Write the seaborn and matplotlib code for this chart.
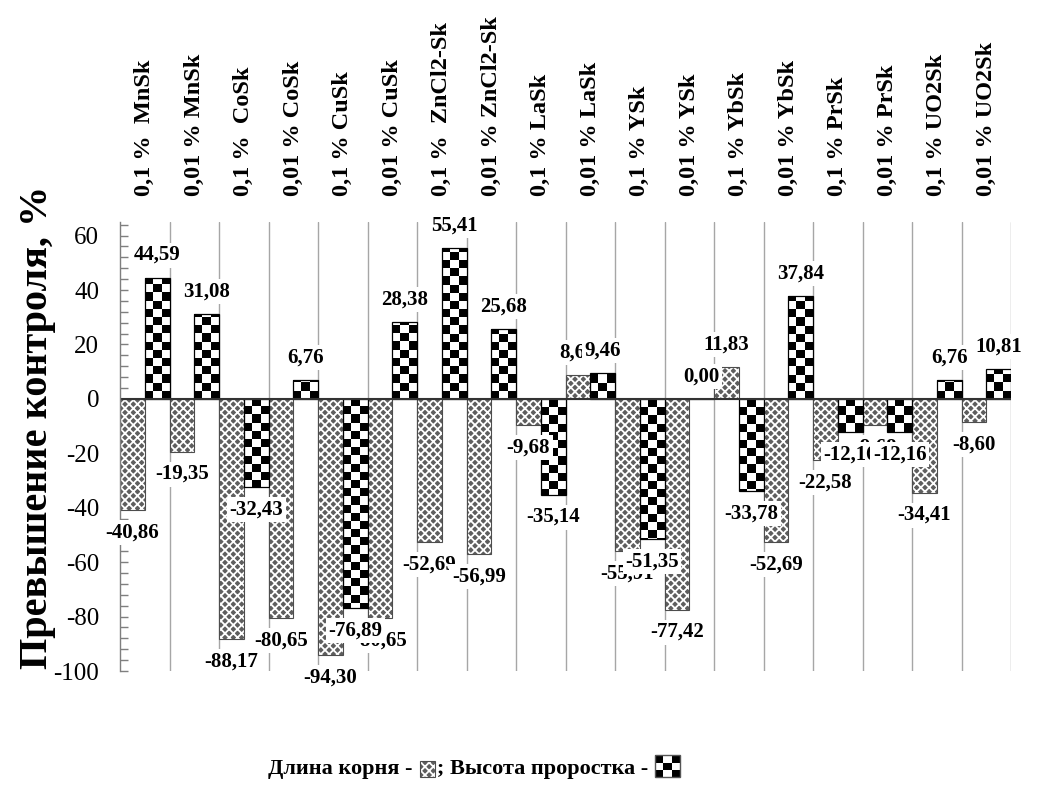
import numpy as np
import pandas as pd
import matplotlib
matplotlib.use("Agg")
import matplotlib.pyplot as plt
from matplotlib.patches import Rectangle, Patch
from matplotlib.colors import ListedColormap
from matplotlib.legend_handler import HandlerBase
from matplotlib.ticker import MultipleLocator, FixedLocator
import seaborn as sns

# ---------------- data ----------------
categories = ["0,1 %  MnSk", "0,01 % MnSk", "0,1 %  CoSk", "0,01 % CoSk",
              "0,1 % CuSk", "0,01 % CuSk", "0,1 %  ZnCl2-Sk", "0,01 % ZnCl2-Sk",
              "0,1 % LaSk", "0,01 % LaSk", "0,1 % YSk", "0,01 % YSk",
              "0,1 % YbSk", "0,01 % YbSk", "0,1 % PrSk", "0,01 % PrSk",
              "0,1 % UO2Sk", "0,01 % UO2Sk"]
root_length = [-40.86, -19.35, -88.17, -80.65, -94.30, -80.65, -52.69, -56.99,
               -9.68, 8.60, -55.91, -77.42, 11.83, -52.69, -22.58, -9.68,
               -34.41, -8.60]
sprout_height = [44.59, 31.08, -32.43, 6.76, -76.89, 28.38, 55.41, 25.68,
                 -35.14, 9.46, -51.35, 0.00, -33.78, 37.84, -12.16, -12.16,
                 6.76, 10.81]
series_names = ["Длина корня", "Высота проростка"]
y_label = "Превышение контроля, %"
legend_labels = ["Длина корня -", "; Высота проростка -"]

df = pd.DataFrame({
    "category": categories * 2,
    "series": [series_names[0]] * len(categories) + [series_names[1]] * len(categories),
    "value": root_length + sprout_height,
})

# ---------------- style ----------------
sns.set_style("white")
plt.rcParams["font.family"] = ["Liberation Serif", "DejaVu Serif"]
plt.rcParams["axes.unicode_minus"] = False
plt.rcParams["hatch.linewidth"] = 1.3
for k in ("text.color", "axes.labelcolor", "xtick.color", "ytick.color"):
    plt.rcParams[k] = "black"

GRAY = "#5e5e5e"

fig = plt.figure(figsize=(10.38, 7.92), dpi=100)
ax = fig.add_axes([120 / 1038, 121 / 792, 891 / 1038, 449 / 792])

sns.barplot(data=df, x="category", y="value", hue="series", order=categories,
            hue_order=series_names, width=1.0, errorbar=None, legend=False,
            palette=[GRAY, "white"], saturation=1, ax=ax)

YMIN, YMAX = -100, 65
ax.set_xlim(-0.5, len(categories) - 0.5)
ax.set_ylim(YMIN, YMAX)

root_bars = ax.containers[0]
sprout_bars = ax.containers[1]

# root bars: gray with white lattice hatch
for p in root_bars:
    p.set_facecolor(GRAY)
    p.set_edgecolor("white")
    p.set_hatch("xxxx")
    p.set_linewidth(0)
    p.set_zorder(2)
    ax.add_patch(Rectangle((p.get_x(), p.get_y()), p.get_width(), p.get_height(),
                           fill=False, edgecolor="#4d4d4d", lw=0.8, zorder=2.3))

# sprout bars: black/white checkerboard texture clipped to each bar
cell_w = 1.0 / 6.0
cell_h = 3.0
n_cols = int(round(len(categories) / cell_w))
n_down = int(np.ceil(-YMIN / cell_h))
n_up = int(np.ceil(YMAX / cell_h))
n_rows = n_down + n_up
checker = np.add.outer(np.arange(n_rows), np.arange(n_cols)) % 2
cmap = ListedColormap(["white", "black"])
for p in sprout_bars:
    p.set_facecolor("white")
    p.set_linewidth(0)
    p.set_zorder(2)
    im = ax.imshow(checker, cmap=cmap, origin="lower", aspect="auto",
                   interpolation="nearest",
                   extent=(-0.5, len(categories) - 0.5, -n_down * cell_h, n_up * cell_h),
                   zorder=2.1)
    im.set_clip_path(p)
    ax.add_patch(Rectangle((p.get_x(), p.get_y()), p.get_width(), p.get_height(),
                           fill=False, edgecolor="black", lw=0.9, zorder=2.3))

ax.set_xlim(-0.5, len(categories) - 0.5)
ax.set_ylim(YMIN, YMAX)

# zero line
ax.axhline(0, color="#333333", lw=1.5, zorder=2.5)

# data labels
def fmt(v):
    return f"{v:.2f}".replace(".", ",")

for cont, vals in ((root_bars, root_length), (sprout_bars, sprout_height)):
    ax.bar_label(cont, labels=[fmt(v) for v in vals], padding=9, fontsize=15,
                 fontweight="bold", zorder=6, color="black",
                 bbox=dict(boxstyle="square,pad=0.12", fc="white", ec="none"))

# axes styling
for s in ("top", "right", "bottom"):
    ax.spines[s].set_visible(False)
ax.spines["left"].set_color("#7f7f7f")
ax.spines["left"].set_linewidth(1.0)

ax.yaxis.set_major_locator(MultipleLocator(20))
ax.yaxis.set_minor_locator(MultipleLocator(4))
ax.tick_params(axis="y", which="both", direction="in", length=6, width=1,
               color="#7f7f7f", labelcolor="black", left=True, labelsize=18, pad=15)

ax.xaxis.tick_top()
ax.set_xticks(range(len(categories)))
ax.set_xticklabels(categories, rotation=90, fontsize=17.5, fontweight="bold")
ax.tick_params(axis="x", which="major", length=0, pad=19, top=True,
               labeltop=True, bottom=False, labelbottom=False, labelcolor="black")
ax.xaxis.set_minor_locator(FixedLocator(np.arange(0.5, len(categories), 1.0)))
ax.tick_params(axis="x", which="minor", length=0)
ax.grid(False)
ax.grid(which="minor", axis="x", color="#a6a6a6", lw=1)
ax.set_axisbelow(True)

ax.set_xlabel("")
ax.set_ylabel(y_label, fontsize=29, fontweight="bold", color="black")
ax.yaxis.set_label_coords(-0.072, 0.543)

# legend (text with pattern swatches)
class HatchHandler(HandlerBase):
    def create_artists(self, legend, orig_handle, xdescent, ydescent, width,
                       height, fontsize, trans):
        w, h = width * 0.65, height * 0.75
        r = Rectangle((-xdescent, -ydescent), w, h, facecolor=GRAY,
                      edgecolor="white", hatch="xxxx", lw=0, transform=trans)
        b = Rectangle((-xdescent, -ydescent), w, h, fill=False,
                      edgecolor="#4d4d4d", lw=0.8, transform=trans)
        return [r, b]


class CheckerHandler(HandlerBase):
    def create_artists(self, legend, orig_handle, xdescent, ydescent, width,
                       height, fontsize, trans):
        n = 3
        cw, ch = width / n, height / n
        arts = []
        for i in range(n):
            for j in range(n):
                c = "black" if (i + j) % 2 == 0 else "white"
                arts.append(Rectangle((-xdescent + i * cw, -ydescent + j * ch), cw, ch,
                                      facecolor=c, edgecolor="none", transform=trans))
        arts.append(Rectangle((-xdescent, -ydescent), width, height, fill=False,
                              edgecolor="#555555", lw=1, transform=trans))
        return arts


h_root = Patch(label=legend_labels[0])
h_sprout = Patch(label=legend_labels[1])
fig.legend(handles=[h_root, h_sprout], labels=legend_labels,
           handler_map={h_root: HatchHandler(), h_sprout: CheckerHandler()},
           loc="center", bbox_to_anchor=(474 / 1038, 25 / 792), ncol=2, frameon=False,
           markerfirst=False, columnspacing=-0.3, handletextpad=0.3,
           handlelength=1.1, handleheight=1.1, borderaxespad=0,
           prop=dict(weight="bold", size=16))

fig.savefig("out.png", dpi=100)
